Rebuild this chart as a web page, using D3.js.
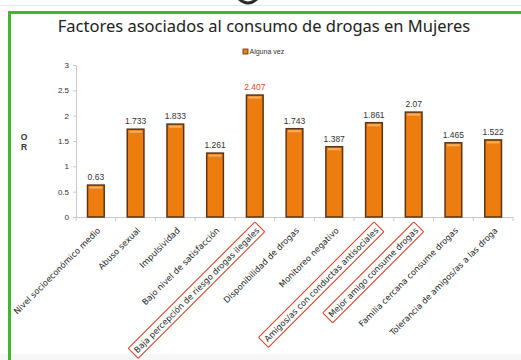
<!DOCTYPE html>
<html>
<head>
<meta charset="utf-8">
<script src="https://cdn.jsdelivr.net/npm/d3@7"></script>
<style>
  html, body { margin: 0; padding: 0; background: #fff; }
  svg { display: block; }
</style>
</head>
<body>
<svg id="chart" width="521" height="360"></svg>
<script>
// Odds ratios by associated factor (women)
const categories = [
  "Nivel socioeconómico medio",
  "Abuso sexual",
  "Impulsividad",
  "Bajo nivel de satisfacción",
  "Baja percepción de riesgo drogas ilegales",
  "Disponibilidad de drogas",
  "Monitoreo negativo",
  "Amigos/as con conductas antisociales",
  "Mejor amigo consume drogas",
  "Familia cercana consume drogas",
  "Tolerancia de amigos/as a las droga"
];
const values = [0.63, 1.733, 1.833, 1.261, 2.407, 1.743, 1.387, 1.861, 2.07, 1.465, 1.522];
const highlighted = [
  "Baja percepción de riesgo drogas ilegales",
  "Amigos/as con conductas antisociales",
  "Mejor amigo consume drogas"
];
const yTicks = [0, 0.5, 1, 1.5, 2, 2.5, 3];
const seriesName = "Alguna vez";
const title = "Factores asociados al consumo de drogas en Mujeres";

const svg = d3.select("#chart");
const font = "'Liberation Sans', Arial, sans-serif";
const labelFont = "'DejaVu Sans', Verdana, sans-serif";

// page frame
svg.append("rect").attr("x", 0).attr("y", 0).attr("width", 521).attr("height", 360).attr("fill", "#fff");
svg.append("rect").attr("x", 0).attr("y", 354).attr("width", 521).attr("height", 6).attr("fill", "#f7f7f7");
svg.append("line").attr("x1", 0).attr("x2", 521).attr("y1", 5.5).attr("y2", 5.5)
  .attr("stroke", "#dfe9df").attr("stroke-width", 1);
// tail of a heading glyph cut by the top edge
svg.append("path").attr("d", "M239,-1 Q248,7 257,-1")
  .attr("fill", "none").attr("stroke", "#2a2a2a").attr("stroke-width", 3);
svg.append("path").attr("d", "M9.5,360 V12.5 H521")
  .attr("fill", "none").attr("stroke", "#3fb829").attr("stroke-width", 3);

// title
svg.append("text").attr("x", 264).attr("y", 32).attr("text-anchor", "middle")
  .attr("font-family", "'Noto Sans', sans-serif").attr("font-size", 16.5).attr("fill", "#222")
  .text(title);

const x = d3.scaleBand().domain(categories).range([76, 513]).paddingInner(0.58).paddingOuter(0.29);
const y = d3.scaleLinear().domain([0, 3]).range([217, 65]);

// legend
const lg = svg.append("g").attr("transform", "translate(243,54)");
lg.append("rect").attr("x", 0).attr("y", -5).attr("width", 5).attr("height", 5)
  .attr("fill", "#ee7d10").attr("stroke", "#5b3415").attr("stroke-width", 0.8);
lg.append("text").attr("x", 6.5).attr("y", 0).attr("font-family", font).attr("font-size", 7)
  .attr("fill", "#333").text(seriesName);

// y axis
const yAxis = svg.append("g").attr("transform", "translate(76,0)")
  .call(d3.axisLeft(y).tickValues(yTicks).tickSize(3).tickPadding(4).tickFormat(d3.format("")));
yAxis.select(".domain").attr("stroke", "#c8c8c8");
yAxis.selectAll(".tick line").attr("stroke", "#c8c8c8");
yAxis.selectAll(".tick text").attr("font-family", font).attr("font-size", 8).attr("fill", "#333");

// y axis title, stacked letters
["O", "R"].forEach((ch, i) => {
  svg.append("text").attr("x", 24).attr("y", 140 + i * 10).attr("text-anchor", "middle")
    .attr("font-family", font).attr("font-size", 8.5).attr("font-weight", "bold")
    .attr("fill", "#333").text(ch);
});

// x axis line with ticks at band boundaries
const x0 = 76;
const bandStep = 437 / categories.length;
svg.append("line").attr("x1", 76).attr("x2", 513).attr("y1", y(0) + 0.5).attr("y2", y(0) + 0.5)
  .attr("stroke", "#c8c8c8");
svg.append("g").selectAll("line").data(d3.range(categories.length + 1)).join("line")
  .attr("x1", i => x0 + i * bandStep)
  .attr("x2", i => x0 + i * bandStep)
  .attr("y1", y(0)).attr("y2", y(0) + 4).attr("stroke", "#c8c8c8");

// bars
const bars = svg.append("g").selectAll("g").data(values).join("g");
bars.append("rect")
  .attr("x", (d, i) => x(categories[i]))
  .attr("y", d => y(d))
  .attr("width", x.bandwidth())
  .attr("height", d => y(0) - y(d))
  .attr("fill", "#ee7d10").attr("stroke", "#5b3415").attr("stroke-width", 1.5);
bars.append("rect")
  .attr("x", (d, i) => x(categories[i]) + 2)
  .attr("y", d => y(d) + 1.5)
  .attr("width", x.bandwidth() - 4)
  .attr("height", 2)
  .attr("fill", "#f7b060");

// value labels
bars.append("text")
  .attr("x", (d, i) => x(categories[i]) + x.bandwidth() / 2)
  .attr("y", d => y(d) - 5)
  .attr("text-anchor", "middle")
  .attr("font-family", font).attr("font-size", 8.5)
  .attr("fill", (d, i) => i === 4 ? "#e2492b" : "#333")
  .text(d => d);

// category labels, rotated
const labels = svg.append("g").selectAll("g").data(categories).join("g")
  .attr("transform", d => `translate(${x(d) + x.bandwidth() / 2 + 3},${y(0) + 12}) rotate(-45)`);
labels.append("text")
  .attr("text-anchor", "end")
  .attr("dy", "0.35em")
  .attr("font-family", labelFont).attr("font-size", 8.3)
  .attr("fill", "#222")
  .text(d => d);
labels.filter(d => highlighted.includes(d)).each(function () {
  const g = d3.select(this);
  const bb = g.select("text").node().getBBox();
  g.insert("rect", "text")
    .attr("x", bb.x - 3).attr("y", bb.y - 2)
    .attr("width", bb.width + 6).attr("height", bb.height + 4)
    .attr("rx", 1)
    .attr("fill", "none").attr("stroke", "#d2492e").attr("stroke-width", 1.1);
});
</script>
</body>
</html>
